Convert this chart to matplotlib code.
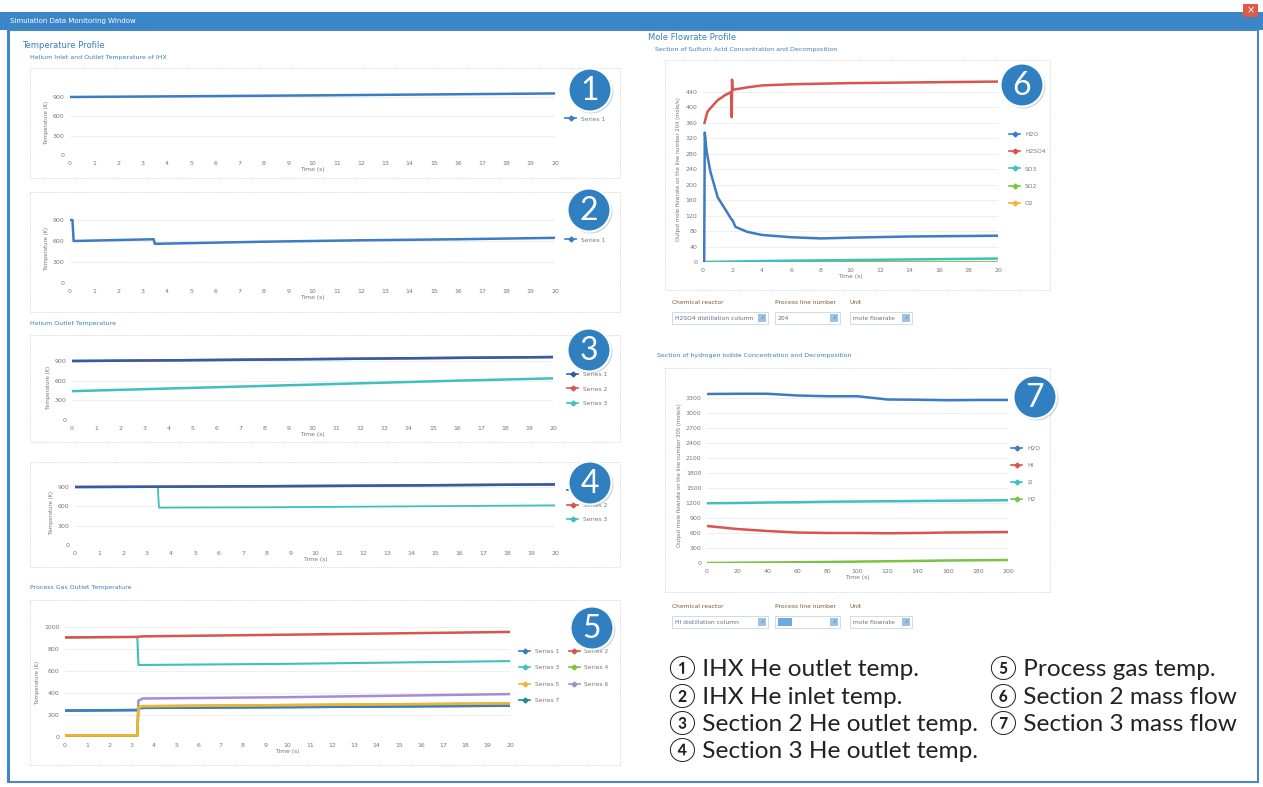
import numpy as np
import matplotlib.pyplot as plt
from matplotlib.lines import Line2D
from matplotlib.patches import Rectangle, Circle

#--------data begin--------
# panel 1 : IHX He outlet temp
t1 = [0, 5, 10, 15, 20]
p1_s1 = [900, 912, 925, 940, 955]

# panel 2 : IHX He inlet temp
t2 = [0, 0.1, 0.15, 3.45, 3.5, 3.55, 8, 12, 16, 20]
p2_s1 = [900, 900, 600, 625, 560, 560, 590, 610, 625, 645]

# panel 3 : section 2 He outlet temp
t3 = [0, 4, 8, 12, 16, 20]
p3_s1 = [900, 910, 922, 935, 948, 960]
p3_s2 = [900, 910, 922, 935, 948, 960]
p3_s3 = [440, 480, 520, 560, 600, 635]

# panel 4 : section 3 He outlet temp
t4 = [0, 4, 8, 12, 16, 20]
p4_s1 = [900, 905, 912, 920, 930, 940]
p4_s2 = [900, 905, 912, 920, 930, 940]
t4_s3 = [0, 3.45, 3.5, 8, 12, 16, 20]
p4_s3 = [900, 900, 580, 585, 595, 605, 615]

# panel 5 : process gas temp
t5 = [0, 3.25, 3.3, 3.5, 10, 20]
p5_s1 = [240, 245, 262, 265, 272, 285]
p5_s2 = [905, 910, 912, 915, 930, 955]
p5_s3 = [905, 910, 655, 655, 665, 690]
p5_s4 = [15, 15, 270, 280, 290, 305]
p5_s5 = [15, 15, 270, 280, 290, 305]
p5_s6 = [10, 10, 330, 350, 362, 390]
p5_s7 = [240, 245, 262, 265, 272, 285]

# panel 6 : section 2 mole flow (line 204)
t6_h2o = [0, 0.08, 0.12, 0.25, 0.5, 1.0, 1.5, 1.9, 2.0, 2.2, 3, 4, 6, 8, 10, 14, 20]
h2o_6 = [0, 0, 335, 285, 234, 167, 137, 112, 108, 91, 78, 70, 64, 61, 63, 66, 68]
t6_h2so4 = [0.1, 0.3, 0.5, 1.0, 1.5, 1.9, 1.95, 1.97, 2.0, 2.05, 3, 4, 6, 10, 15, 20]
h2so4_6 = [360, 389, 398, 419, 432, 440, 375, 472, 444, 446, 452, 457, 460, 463, 465, 467]
t6 = [0, 5, 10, 15, 20]
so3_6 = [0, 3, 5, 7, 9]
so2_6 = [0, 0, 0, 0, 0]
o2_6 = [0, 0, 0, 0, 0]

# panel 7 : section 3 mole flow (line 305)
t7 = [0, 20, 40, 60, 80, 100, 120, 140, 160, 180, 200]
h2o_7 = [3380, 3385, 3385, 3350, 3335, 3335, 3270, 3265, 3255, 3260, 3260]
hi_7 = [740, 680, 640, 610, 600, 600, 595, 600, 610, 615, 620]
i2_7 = [1195, 1200, 1210, 1215, 1225, 1230, 1235, 1240, 1245, 1250, 1255]
h2_7 = [0, 5, 10, 15, 20, 28, 35, 42, 50, 55, 60]

captions_left = ["\u2460 IHX He outlet temp.", "\u2461 IHX He inlet temp.",
                 "\u2462 Section 2 He outlet temp.", "\u2463 Section 3 He outlet temp."]
captions_right = ["\u2464 Process gas temp.", "\u2465 Section 2 mass flow",
                  "\u2466 Section 3 mass flow"]
#--------data end--------

#--------config begin--------
W, H = 1263, 787
c_blue = "#3b7cc4"
c_dblue = "#2d5fa8"
c_red = "#d9534f"
c_teal = "#40bfbf"
c_green = "#7cc243"
c_orange = "#f2b233"
c_purple = "#a78bd4"
c_dteal = "#1d8c8c"
c_title = "#3a86c8"
c_circle = "#2f7fc1"
tick_fs = 4.5
#--------config end--------

fig = plt.figure(figsize=(W / 100, H / 100), dpi=100)
fig.patch.set_facecolor("white")

# background layer drawn in pixel coordinates
bg = fig.add_axes([0, 0, 1, 1], label="bg")
bg.set_xlim(0, W)
bg.set_ylim(H, 0)
bg.axis("off")
bg.set_zorder(-5)

bg.add_patch(Rectangle((0, 12), W, 18, color=c_title, lw=0))
bg.text(10, 21, "Simulation Data Monitoring Window", color="white", fontsize=5, va="center")
bg.add_patch(Rectangle((1243, 4), 15, 13, color="#e05a4a", lw=0))
bg.text(1250.5, 10.5, "\u00d7", color="white", fontsize=7, ha="center", va="center")
bg.add_patch(Rectangle((8, 30), 1250, 752, fill=False, ec="#4a86c0", lw=1.5))
bg.add_patch(Rectangle((8, 30), 2, 752, color=c_title, lw=0))

# panel frames
for (x0, y0, x1, y1) in [(30, 68, 620, 178), (30, 192, 620, 312), (30, 335, 620, 442),
                         (30, 462, 620, 567), (30, 600, 620, 765),
                         (665, 60, 1050, 290), (665, 368, 1050, 592)]:
    bg.add_patch(Rectangle((x0, y0), x1 - x0, y1 - y0, fill=False, ec="#d8d8d8",
                           lw=0.7, ls=(0, (1, 1))))

head_c = "#3a7fc0"
bg.text(22, 46, "Temperature Profile", color=head_c, fontsize=6, va="center")
bg.text(30, 57, "Helium Inlet and Outlet Temperature of IHX", color=head_c, fontsize=4.5, va="center")
bg.text(30, 323, "Helium Outlet Temperature", color=head_c, fontsize=4.5, va="center")
bg.text(30, 588, "Process Gas Outlet Temperature", color=head_c, fontsize=4.5, va="center")
bg.text(648, 38, "Mole Flowrate Profile", color=head_c, fontsize=6, va="center")
bg.text(655, 50, "Section of Sulfuric Acid Concentration and Decomposition", color=head_c,
        fontsize=4.5, va="center")
bg.text(657, 355, "Section of hydrogen iodide Concentration and Decomposition", color=head_c,
        fontsize=4.5, va="center")


def dropdown(x0, x1, y, text, highlight=False):
    bg.add_patch(Rectangle((x0, y), x1 - x0, 12, fill=False, ec="#c8d4e4", lw=0.6))
    if highlight:
        bg.add_patch(Rectangle((x0 + 3, y + 2), 14, 8, color="#6fa8dc", lw=0))
    bg.text(x0 + 3, y + 6, text, fontsize=4.3, color="#607080", va="center")
    bg.add_patch(Rectangle((x1 - 10, y + 2), 8, 8, color="#9cc3e6", lw=0))
    bg.text(x1 - 6, y + 6, "\u2713", fontsize=4, color="#2f6fb0", ha="center", va="center")


for ylab, names in [(302, ("H2SO4 distillation column", "204")),
                    (606, ("HI distillation column", "305"))]:
    lab_c = "#7a5a38"
    bg.text(672, ylab, "Chemical reactor", fontsize=4.3, color=lab_c, va="center")
    bg.text(775, ylab, "Process line number", fontsize=4.3, color=lab_c, va="center")
    bg.text(850, ylab, "Unit", fontsize=4.3, color=lab_c, va="center")
    dropdown(672, 768, ylab + 10, names[0])
    dropdown(775, 840, ylab + 10, "" if names[1] == "305" else names[1], names[1] == "305")
    dropdown(850, 912, ylab + 10, "mole flowrate")


def panel(x0, x1, y0px, refpx, refval, ytop, xmax, xticks, yticks, ylabel):
    per = (y0px - refpx) / refval
    top = y0px - ytop * per
    ax = fig.add_axes([x0 / W, 1 - y0px / H, (x1 - x0) / W, (y0px - top) / H])
    ax.set_xlim(0, xmax)
    ax.set_ylim(0, ytop)
    ax.set_xticks(xticks)
    ax.set_yticks(yticks)
    ax.tick_params(length=0, labelsize=tick_fs, labelcolor="#777777", pad=4)
    for s in ax.spines.values():
        s.set_visible(False)
    ax.grid(axis="y", color="#ececec", lw=0.6)
    ax.set_axisbelow(True)
    ax.patch.set_alpha(0)
    ax.set_xlabel("Time (s)", fontsize=4.3, color="#777777", labelpad=1)
    ax.set_ylabel(ylabel, fontsize=3.8, color="#777777", labelpad=3)
    return ax


def handle(c):
    return Line2D([], [], color=c, lw=1.2, marker="D", markersize=2.5)


def legend(ax, colors, labels, x, y, ncol=1, spacing=1.6, colsp=2.5):
    ax.legend([handle(c) for c in colors], labels, loc="center left",
              bbox_to_anchor=(x / W, 1 - y / H), bbox_transform=fig.transFigure,
              frameon=False, fontsize=4.3, handlelength=1.8, labelspacing=spacing,
              ncol=ncol, columnspacing=colsp, labelcolor="#777777")


temp_label = "Temperature (K)"
xt20 = list(range(0, 21))
yt900 = [0, 300, 600, 900]
lw = 1.8

# panel 1
ax1 = panel(70, 555, 155, 97, 900, 1000, 20, xt20, yt900, temp_label)
ax1.plot(t1, p1_s1, color=c_blue, lw=lw)
legend(ax1, [c_blue], ["Series 1"], 560, 119)

# panel 2
ax2 = panel(70, 555, 283, 220, 900, 1000, 20, xt20, yt900, temp_label)
ax2.plot(t2, p2_s1, color=c_blue, lw=lw)
legend(ax2, [c_blue], ["Series 1"], 560, 240)

# panel 3
ax3 = panel(72, 553, 420, 361, 900, 1000, 20, xt20, yt900, temp_label)
ax3.plot(t3, p3_s2, color=c_red, lw=lw)
ax3.plot(t3, p3_s1, color=c_dblue, lw=lw)
ax3.plot(t3, p3_s3, color=c_teal, lw=lw)
legend(ax3, [c_dblue, c_red, c_teal], ["Series 1", "Series 2", "Series 3"], 562, 389)

# panel 4
ax4 = panel(75, 555, 545, 487, 900, 1000, 20, xt20, yt900, temp_label)
ax4.plot(t4, p4_s2, color=c_red, lw=lw)
ax4.plot(t4_s3, p4_s3, color=c_teal, lw=1.3)
ax4.plot(t4, p4_s1, color=c_dblue, lw=lw)
legend(ax4, [c_dblue, c_red, c_teal], ["Series 1", "Series 2", "Series 3"], 562, 505)

# panel 5
ax5 = panel(65, 510, 737, 627, 1000, 1000, 20, xt20, [0, 200, 400, 600, 800, 1000], temp_label)
ax5.plot(t5, p5_s7, color=c_dteal, lw=lw)
ax5.plot(t5, p5_s1, color=c_blue, lw=lw)
ax5.plot(t5, p5_s3, color=c_teal, lw=1.5)
ax5.plot(t5, p5_s2, color=c_red, lw=lw)
ax5.plot(t5, p5_s6, color=c_purple, lw=lw)
ax5.plot(t5, p5_s4, color=c_green, lw=lw)
ax5.plot(t5, p5_s5, color=c_orange, lw=lw)
legend(ax5, [c_blue, c_teal, c_orange, c_dteal, c_red, c_green, c_purple],
       ["Series 1", "Series 3", "Series 5", "Series 7", "Series 2", "Series 4", "Series 6"],
       514, 676, ncol=2, spacing=1.9, colsp=1.6)

# panel 6
ax6 = panel(703, 998, 262, 92, 440, 480, 20, list(range(0, 21, 2)), list(range(0, 441, 40)),
            "Output mole flowrate on the line number 204 (mole/s)")
ax6.plot(t6, o2_6, color=c_orange, lw=lw)
ax6.plot(t6, so2_6, color=c_green, lw=lw)
ax6.plot(t6, so3_6, color=c_teal, lw=lw)
ax6.plot(t6_h2so4, h2so4_6, color=c_red, lw=lw)
ax6.plot(t6_h2o, h2o_6, color=c_blue, lw=lw)
legend(ax6, [c_blue, c_red, c_teal, c_green, c_orange], ["H2O", "H2SO4", "SO3", "SO2", "O2"],
       1004, 169, spacing=2.0)

# panel 7
ax7 = panel(707, 1008, 563, 398, 3300, 3500, 200, list(range(0, 201, 20)),
            list(range(0, 3301, 300)), "Output mole flowrate on the line number 305 (mole/s)")
ax7.plot(t7, h2_7, color=c_green, lw=lw)
ax7.plot(t7, hi_7, color=c_red, lw=lw)
ax7.plot(t7, i2_7, color=c_teal, lw=lw)
ax7.plot(t7, h2o_7, color=c_blue, lw=lw)
legend(ax7, [c_blue, c_red, c_teal, c_green], ["H2O", "HI", "I2", "H2"], 1006, 474, spacing=2.0)

# foreground : numbered circles and captions
fg = fig.add_axes([0, 0, 1, 1], label="fg")
fg.set_xlim(0, W)
fg.set_ylim(H, 0)
fg.axis("off")
fg.set_zorder(10)
fg.patch.set_alpha(0)

for n, (cx, cy) in enumerate([(590, 90), (589, 210), (589, 350), (590, 483), (592, 628),
                              (1022, 85), (1035, 397)], start=1):
    fg.add_patch(Circle((cx + 1.5, cy + 1.5), 22, color="#9ab4cc", lw=0, alpha=0.5))
    fg.add_patch(Circle((cx, cy), 21.5, fc=c_circle, ec="white", lw=1.5))
    fg.text(cx, cy + 1, str(n), color="white", fontsize=23, ha="center", va="center",
            family=["Lato", "DejaVu Sans"])

cap_font = ["Lato", "Noto Sans CJK SC", "DejaVu Sans"]
for i, s in enumerate(captions_left):
    fg.text(669, 668 + i * 27.5, s, fontsize=17.6, color="#222222", va="center", family=cap_font)
for i, s in enumerate(captions_right):
    fg.text(990, 668 + i * 27.5, s, fontsize=17.6, color="#222222", va="center", family=cap_font)

fig.savefig("out.png", dpi=100)
